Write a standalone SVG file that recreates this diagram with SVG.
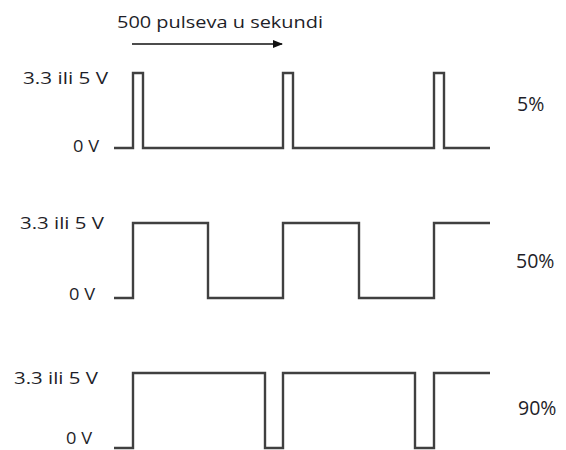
<svg xmlns="http://www.w3.org/2000/svg" width="566" height="450" viewBox="0 0 566 450">
<style>
.bg{fill:#ffffff}
.wave{fill:none;stroke:#404040;stroke-width:2.4;stroke-linejoin:miter}
.lbl{font-family:"Open Sans","DejaVu Sans",sans-serif;font-size:16.5px;fill:#1e1e28}
.pct{font-family:"Open Sans","DejaVu Sans",sans-serif;font-size:19.5px;fill:#1e1e28}
.arrow{fill:none;stroke:#111;stroke-width:1.6}
</style>
<defs>
<marker id="ah" markerWidth="10" markerHeight="8" refX="9" refY="4" orient="auto" markerUnits="userSpaceOnUse">
<path d="M0,0 L10,4 L0,8 Z" fill="#111"/>
</marker>
</defs>
<rect class="bg" x="0" y="0" width="566" height="450"/>
<g id="title">
<text class="lbl" x="117" y="28" textLength="206" lengthAdjust="spacingAndGlyphs">500 pulseva u sekundi</text>
</g>
<g id="connectors">
<line class="arrow" x1="132" y1="44" x2="282" y2="44" marker-end="url(#ah)"/>
</g>
<g id="pwm5">
<path class="wave" d="M114 148 H133 V73 H143 V148 H283 V73 H293 V148 H434 V73 H444 V148 H490"/>
<text class="lbl" x="23" y="84" textLength="85" lengthAdjust="spacingAndGlyphs">3.3 ili 5 V</text>
<text class="lbl" x="73" y="152" textLength="26" lengthAdjust="spacingAndGlyphs">0 V</text>
<text class="pct" x="517" y="111">5%</text>
</g>
<g id="pwm50">
<path class="wave" d="M114 298 H133 V223 H208 V298 H283 V223 H359 V298 H434 V223 H490"/>
<text class="lbl" x="20" y="229" textLength="84" lengthAdjust="spacingAndGlyphs">3.3 ili 5 V</text>
<text class="lbl" x="69" y="300" textLength="26" lengthAdjust="spacingAndGlyphs">0 V</text>
<text class="pct" x="516" y="268">50%</text>
</g>
<g id="pwm90">
<path class="wave" d="M114 448 H133 V373 H265 V448 H283 V373 H415 V448 H434 V373 H490"/>
<text class="lbl" x="14" y="384" textLength="84" lengthAdjust="spacingAndGlyphs">3.3 ili 5 V</text>
<text class="lbl" x="66" y="444" textLength="26" lengthAdjust="spacingAndGlyphs">0 V</text>
<text class="pct" x="518" y="415">90%</text>
</g>
</svg>
